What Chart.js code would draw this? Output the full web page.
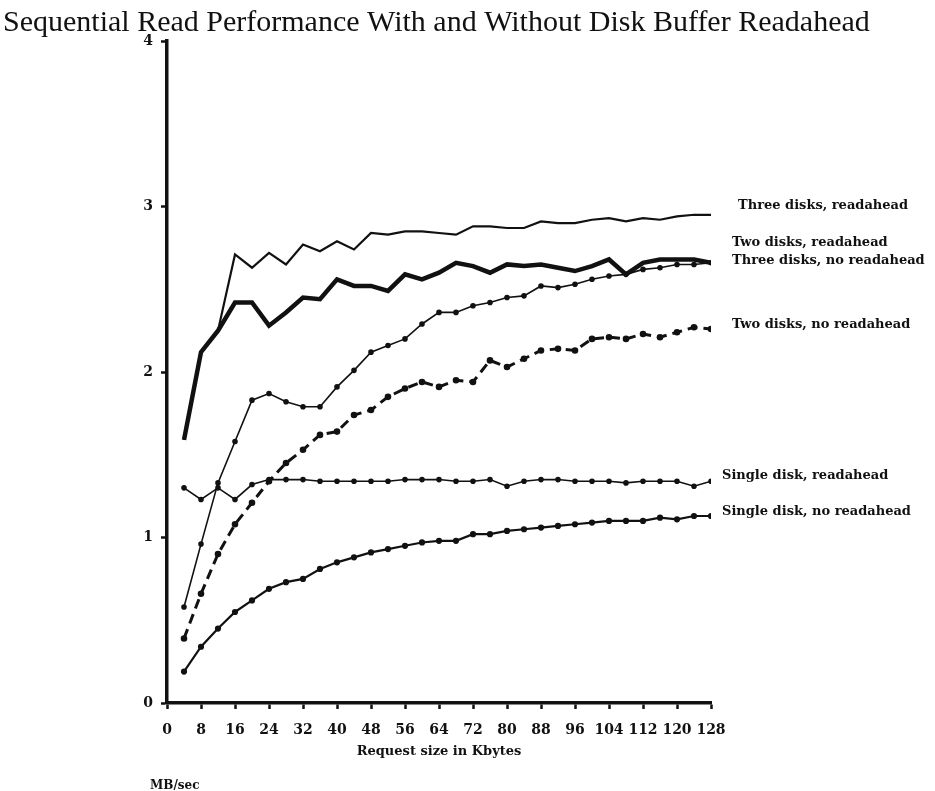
<!DOCTYPE html>
<html>
<head>
<meta charset="utf-8">
<title>Sequential Read Performance</title>
<script src="https://cdn.jsdelivr.net/npm/chart.js@4"></script>
<style>
  html, body { margin: 0; padding: 0; background: #fff; }
  #wrap { width: 935px; height: 791px; position: relative; }
</style>
</head>
<body>
<div id="wrap"><canvas id="myChart"></canvas></div>
<script>
/*globals Chart*/
// request sizes in Kbytes, one point every 4 KB
const requestSizes = [4, 8, 12, 16, 20, 24, 28, 32, 36, 40, 44, 48, 52, 56, 60, 64,
	68, 72, 76, 80, 84, 88, 92, 96, 100, 104, 108, 112, 116, 120, 124, 128];

const threeDisksRa = [1.59, 2.12, 2.25, 2.71, 2.63, 2.72, 2.65, 2.77, 2.73, 2.79, 2.74, 2.84, 2.83, 2.85, 2.85, 2.84,
	2.83, 2.88, 2.88, 2.87, 2.87, 2.91, 2.90, 2.90, 2.92, 2.93, 2.91, 2.93, 2.92, 2.94, 2.95, 2.95];
const twoDisksRa = [1.59, 2.12, 2.25, 2.42, 2.42, 2.28, 2.36, 2.45, 2.44, 2.56, 2.52, 2.52, 2.49, 2.59, 2.56, 2.60,
	2.66, 2.64, 2.60, 2.65, 2.64, 2.65, 2.63, 2.61, 2.64, 2.68, 2.59, 2.66, 2.68, 2.68, 2.68, 2.66];
const threeDisksNoRa = [0.58, 0.96, 1.33, 1.58, 1.83, 1.87, 1.82, 1.79, 1.79, 1.91, 2.01, 2.12, 2.16, 2.20, 2.29, 2.36,
	2.36, 2.40, 2.42, 2.45, 2.46, 2.52, 2.51, 2.53, 2.56, 2.58, 2.59, 2.62, 2.63, 2.65, 2.65, 2.66];
const twoDisksNoRa = [0.39, 0.66, 0.90, 1.08, 1.21, 1.34, 1.45, 1.53, 1.62, 1.64, 1.74, 1.77, 1.85, 1.90, 1.94, 1.91,
	1.95, 1.94, 2.07, 2.03, 2.08, 2.13, 2.14, 2.13, 2.20, 2.21, 2.20, 2.23, 2.21, 2.24, 2.27, 2.26];
const singleDiskRa = [1.30, 1.23, 1.30, 1.23, 1.32, 1.35, 1.35, 1.35, 1.34, 1.34, 1.34, 1.34, 1.34, 1.35, 1.35, 1.35,
	1.34, 1.34, 1.35, 1.31, 1.34, 1.35, 1.35, 1.34, 1.34, 1.34, 1.33, 1.34, 1.34, 1.34, 1.31, 1.34];
const singleDiskNoRa = [0.19, 0.34, 0.45, 0.55, 0.62, 0.69, 0.73, 0.75, 0.81, 0.85, 0.88, 0.91, 0.93, 0.95, 0.97, 0.98,
	0.98, 1.02, 1.02, 1.04, 1.05, 1.06, 1.07, 1.08, 1.09, 1.10, 1.10, 1.10, 1.12, 1.11, 1.13, 1.13];

const seriesLabels = ["Three disks, readahead", "Two disks, readahead", "Three disks, no readahead",
	"Two disks, no readahead", "Single disk, readahead", "Single disk, no readahead"];
const yTicks = [0, 1, 2, 3, 4];
const xTicks = [0, 8, 16, 24, 32, 40, 48, 56, 64, 72, 80, 88, 96, 104, 112, 120, 128];

const titolo = "Sequential Read Performance With and Without Disk Buffer Readahead";
const xTitle = "Request size in Kbytes";
const unita = "MB/sec";

const ink = "#111";
const serif = "'Liberation Serif', 'DejaVu Serif', serif";
const boldSerif = "'DejaVu Serif', 'Liberation Serif', serif";

function punti(values) {
	return values.map((v, i) => ({ x: requestSizes[i], y: v }));
}

// where each end label sits, relative to the last point of its line
const labelOffsets = [
	{ dx: 27, dy: -9 },
	{ dx: 21, dy: -20 },
	{ dx: 21, dy: -2 },
	{ dx: 21, dy: -4 },
	{ dx: 11, dy: -6 },
	{ dx: 11, dy: -4 },
];

const testiPlugin = {
	id: "testi",
	afterDraw(chart) {
		const ctx = chart.ctx;
		const xs = chart.scales.x;
		const ys = chart.scales.y;
		ctx.save();
		ctx.fillStyle = ink;
		ctx.textBaseline = "alphabetic";
		ctx.textAlign = "left";
		ctx.font = "30px " + serif;
		ctx.fillText(titolo, 3, 31);

		ctx.font = "bold 13px " + boldSerif;
		ctx.textBaseline = "middle";
		chart.data.datasets.forEach((ds, i) => {
			const last = ds.data[ds.data.length - 1];
			const off = labelOffsets[i];
			ctx.fillText(seriesLabels[i], xs.getPixelForValue(last.x) + off.dx, ys.getPixelForValue(last.y) + off.dy);
		});

		ctx.font = "bold 12px " + boldSerif;
		ctx.fillText(unita, 150, 786);
		ctx.restore();
	},
};

function generaGrafico() {
	const ctx = document.getElementById("myChart").getContext("2d");
	new Chart(ctx, {
		type: "line",
		data: {
			datasets: [
				{
					label: seriesLabels[0],
					data: punti(threeDisksRa),
					borderColor: ink,
					backgroundColor: ink,
					borderWidth: 2.2,
					pointRadius: 0,
				},
				{
					label: seriesLabels[1],
					data: punti(twoDisksRa),
					borderColor: ink,
					backgroundColor: ink,
					borderWidth: 4.5,
					pointRadius: 0,
				},
				{
					label: seriesLabels[2],
					data: punti(threeDisksNoRa),
					borderColor: ink,
					backgroundColor: ink,
					borderWidth: 1.6,
					pointRadius: 2,
				},
				{
					label: seriesLabels[3],
					data: punti(twoDisksNoRa),
					borderColor: ink,
					backgroundColor: ink,
					borderWidth: 3,
					borderDash: [10, 6],
					pointRadius: 1.8,
				},
				{
					label: seriesLabels[4],
					data: punti(singleDiskRa),
					borderColor: ink,
					backgroundColor: ink,
					borderWidth: 1.6,
					pointRadius: 2,
				},
				{
					label: seriesLabels[5],
					data: punti(singleDiskNoRa),
					borderColor: ink,
					backgroundColor: ink,
					borderWidth: 2.2,
					pointRadius: 2,
				},
			],
		},
		options: {
			responsive: true,
			maintainAspectRatio: false,
			animation: false,
			layout: { padding: { left: 0, top: 41, right: 224, bottom: 32 } },
			plugins: {
				legend: { display: false },
				tooltip: { enabled: false },
			},
			elements: { line: { tension: 0 }, point: { borderWidth: 0 } },
			scales: {
				x: {
					type: "linear",
					min: 0,
					max: 128,
					afterBuildTicks: (s) => { s.ticks = xTicks.map((v) => ({ value: v })); },
					afterFit: (s) => { s.height = 56; },
					grid: { drawOnChartArea: false, tickLength: 6, tickColor: ink, tickWidth: 2.5 },
					border: { display: true, color: ink, width: 3.5 },
					ticks: { color: ink, padding: 13, maxRotation: 0, autoSkip: false, font: { family: boldSerif, size: 14, weight: "bold" } },
					title: { display: true, text: xTitle, color: ink, padding: { top: 2, bottom: 0 }, font: { family: boldSerif, size: 13, weight: "bold" } },
				},
				y: {
					min: 0,
					max: 4,
					afterBuildTicks: (s) => { s.ticks = yTicks.map((v) => ({ value: v })); },
					afterFit: (s) => { s.width = 167; },
					grid: { drawOnChartArea: false, tickLength: 6, tickColor: ink, tickWidth: 2.5 },
					border: { display: true, color: ink, width: 3.5 },
					ticks: { color: ink, padding: 8, font: { family: boldSerif, size: 14, weight: "bold" } },
				},
			},
		},
		plugins: [testiPlugin],
	});
}
generaGrafico();
</script>
</body>
</html>
